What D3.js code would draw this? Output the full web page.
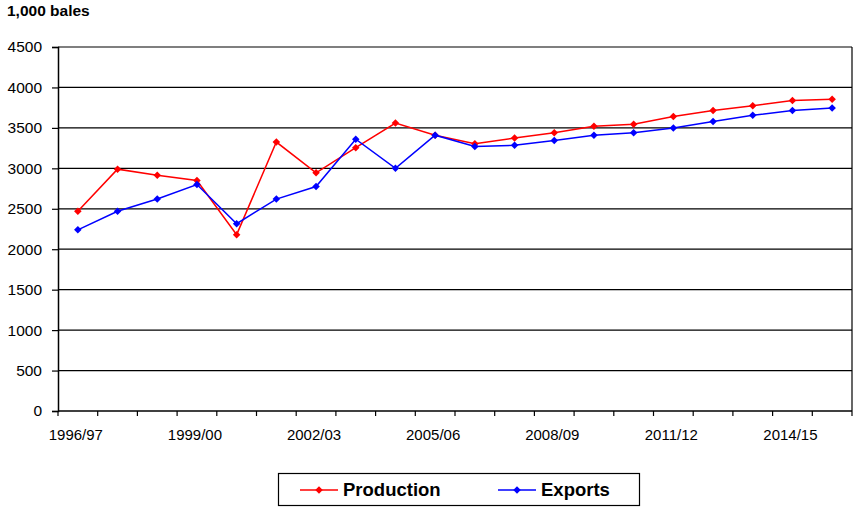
<!DOCTYPE html>
<html>
<head>
<meta charset="utf-8">
<script src="https://cdn.jsdelivr.net/npm/d3@7"></script>
<style>
  html, body { margin: 0; padding: 0; background: #fff; }
  svg { display: block; font-family: Arial, "Liberation Sans", sans-serif; }
</style>
</head>
<body>
<svg id="chart" width="855" height="507"></svg>
<script>
// marketing years
const seasons = ["1996/97", "1997/98", "1998/99", "1999/00", "2000/01", "2001/02", "2002/03",
  "2003/04", "2004/05", "2005/06", "2006/07", "2007/08", "2008/09", "2009/10", "2010/11",
  "2011/12", "2012/13", "2013/14", "2014/15", "2015/16"];
const production = [2470, 2990, 2915, 2850, 2180, 3325, 2945, 3255, 3560, 3410,
  3305, 3375, 3440, 3520, 3545, 3640, 3715, 3775, 3840, 3855];
const exports = [2240, 2470, 2620, 2800, 2315, 2620, 2775, 3360, 3000, 3410,
  3270, 3285, 3345, 3410, 3440, 3500, 3580, 3655, 3715, 3745];
const yTicks = [0, 500, 1000, 1500, 2000, 2500, 3000, 3500, 4000, 4500];
const xLabels = ["1996/97", "1999/00", "2002/03", "2005/06", "2008/09", "2011/12", "2014/15"];

const svg = d3.select("#chart");
const plotL = 58, plotR = 852, plotT = 47, plotB = 411;

const x = d3.scaleBand().domain(seasons).range([plotL, plotR]);
const y = d3.scaleLinear().domain([0, 4500]).range([plotB, plotT]);

// unit label
svg.append("text")
  .attr("x", 7).attr("y", 16)
  .attr("font-size", 15.5).attr("font-weight", "bold")
  .text("1,000 bales");

// gridlines
svg.append("g").selectAll("line")
  .data(yTicks.filter(d => d > 0))
  .join("line")
  .attr("x1", plotL).attr("x2", plotR)
  .attr("y1", d => y(d)).attr("y2", d => y(d))
  .attr("stroke", "#000").attr("stroke-width", 1.2);

// right border
svg.append("line")
  .attr("x1", plotR).attr("x2", plotR).attr("y1", plotT).attr("y2", plotB)
  .attr("stroke", "#000").attr("stroke-width", 1.2);

// y axis
const yAxis = svg.append("g")
  .attr("transform", `translate(${plotL},0)`)
  .call(d3.axisLeft(y).tickValues(yTicks).tickSize(6).tickPadding(10).tickFormat(d3.format("d")));
yAxis.select(".domain").attr("stroke", "#000").attr("stroke-width", 1.5);
yAxis.selectAll(".tick line").attr("stroke", "#000").attr("stroke-width", 1.2);
yAxis.selectAll("text").attr("font-size", 15.5).attr("font-family", "Arial, 'Liberation Sans', sans-serif").attr("fill", "#000");

// x axis: ticks at category boundaries, labels every third season
const bounds = seasons.map(s => x(s)).concat([plotR]);
const xAxis = svg.append("g");
xAxis.append("line")
  .attr("x1", plotL).attr("x2", plotR).attr("y1", plotB).attr("y2", plotB)
  .attr("stroke", "#000").attr("stroke-width", 1.5);
xAxis.selectAll("line.tk")
  .data(bounds)
  .join("line").attr("class", "tk")
  .attr("x1", d => d).attr("x2", d => d)
  .attr("y1", plotB).attr("y2", plotB + 5)
  .attr("stroke", "#000").attr("stroke-width", 1.2);
xAxis.selectAll("text")
  .data(xLabels)
  .join("text")
  .attr("x", d => x(d) + x.bandwidth() / 2 - 2)
  .attr("y", 440)
  .attr("text-anchor", "middle")
  .attr("font-size", 15)
  .text(d => d);

// series
const series = [
  { name: "Production", values: production, color: "#ff0000" },
  { name: "Exports", values: exports, color: "#0000ff" }
];
const cx = (d, i) => x(seasons[i]) + x.bandwidth() / 2;
const line = d3.line().x(cx).y(d => y(d));
const diamond = d3.symbol().type(d3.symbolDiamond2).size(36);

series.forEach(s => {
  const g = svg.append("g");
  g.append("path")
    .attr("d", line(s.values))
    .attr("fill", "none")
    .attr("stroke", s.color)
    .attr("stroke-width", 1.5);
  g.selectAll("path.m")
    .data(s.values)
    .join("path").attr("class", "m")
    .attr("d", diamond)
    .attr("transform", (d, i) => `translate(${cx(d, i)},${y(d)})`)
    .attr("fill", s.color);
});

// legend
const lg = svg.append("g");
lg.append("rect")
  .attr("x", 278.5).attr("y", 473.5).attr("width", 361).attr("height", 32)
  .attr("fill", "#fff").attr("stroke", "#000").attr("stroke-width", 1.2);
const lx = [300, 498];
series.forEach((s, i) => {
  lg.append("line")
    .attr("x1", lx[i]).attr("x2", lx[i] + 38).attr("y1", 490).attr("y2", 490)
    .attr("stroke", s.color).attr("stroke-width", 1.5);
  lg.append("path")
    .attr("d", diamond)
    .attr("transform", `translate(${lx[i] + 19},490)`)
    .attr("fill", s.color);
  lg.append("text")
    .attr("x", lx[i] + 43).attr("y", 496)
    .attr("font-size", 18.5).attr("font-weight", "bold")
    .text(s.name);
});
</script>
</body>
</html>
